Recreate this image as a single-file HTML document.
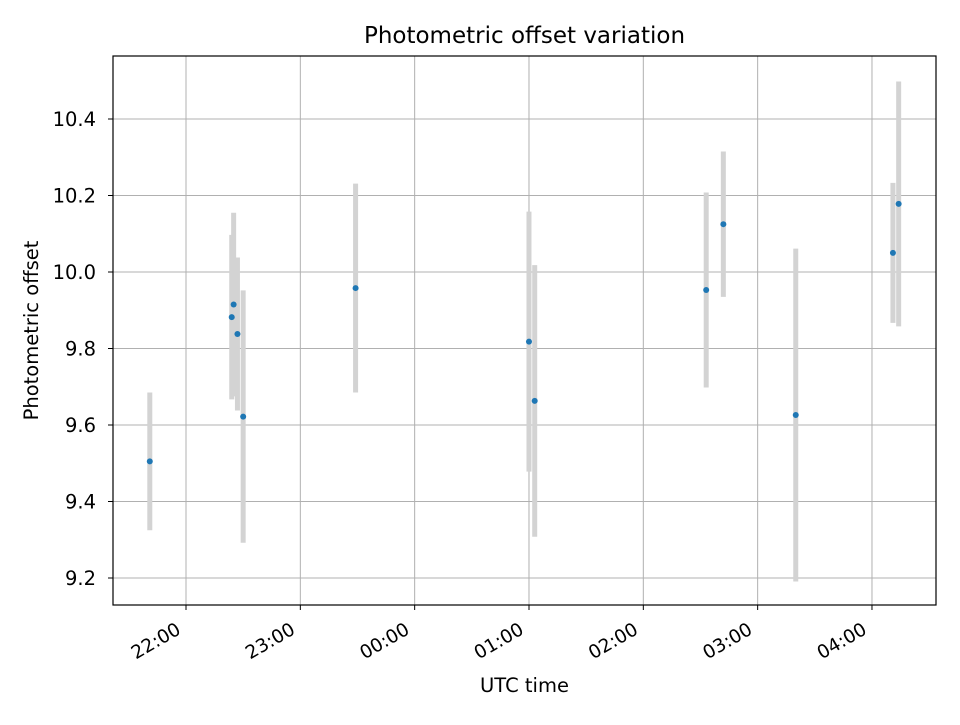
<!DOCTYPE html>
<html><head><meta charset="utf-8"><style>
body{margin:0;background:#fff;}
svg text{font-family:"DejaVu Sans","Liberation Sans",sans-serif;fill:#000;}
</style></head><body>
<svg id="chart" width="960" height="720" xmlns="http://www.w3.org/2000/svg"></svg>
<script>
const times = ["21:41","22:24","22:25","22:27","22:30","23:29","01:00","01:03","02:33","02:42","03:20","04:11","04:14"];
const values = [9.505,9.882,9.915,9.838,9.622,9.958,9.818,9.663,9.953,10.125,9.626,10.05,10.178];
const errors = [0.18,0.215,0.24,0.2,0.33,0.273,0.34,0.355,0.255,0.19,0.435,0.183,0.32];
const xTickLabels = ["22:00","23:00","00:00","01:00","02:00","03:00","04:00"];
const yTickLabels = ["9.2","9.4","9.6","9.8","10.0","10.2","10.4"];

const NS="http://www.w3.org/2000/svg";
const svg=document.getElementById('chart');
const L=113,R=936,T=56,B=605;
function toMin(s){let [h,m]=s.split(':').map(Number);if(h<12)h+=24;return h*60+m;}
function xs(min){return 186+(min-22*60)*(114.33/60);}
function ys(v){return 578-(v-9.2)*382.5;}
function mk(tag,attrs,parent){const e=document.createElementNS(NS,tag);for(const k in attrs)e.setAttribute(k,attrs[k]);(parent||svg).appendChild(e);return e;}

const grid=mk('g',{});


xTickLabels.forEach(t=>{
  const x=xs(toMin(t));
  mk('line',{x1:x,x2:x,y1:T,y2:B,stroke:'#b0b0b0','stroke-width':1},grid);
  mk('line',{x1:x,x2:x,y1:B,y2:B+5,stroke:'#000','stroke-width':1});
  const bx=x-4,by=B+28;
  const tx=mk('text',{x:bx,y:by,'font-size':18.5,'text-anchor':'end',transform:`rotate(-30 ${bx} ${by})`});
  
  
  tx.textContent=t;
});
yTickLabels.forEach(t=>{
  const y=ys(parseFloat(t));
  mk('line',{x1:L,x2:R,y1:y,y2:y,stroke:'#b0b0b0','stroke-width':1},grid);
  mk('line',{x1:L-5,x2:L,y1:y,y2:y,stroke:'#000','stroke-width':1});
  const tx=mk('text',{x:L-17,y:y+7,'font-size':19.5,'text-anchor':'end'});
  
  
  tx.textContent=t;
});
const eb=mk('g',{});


times.forEach((t,i)=>{
  const x=xs(toMin(t));
  const l=mk('line',{x1:x,x2:x,y1:ys(values[i]-errors[i]),y2:ys(values[i]+errors[i]),stroke:'#d3d3d3','stroke-width':5},eb);
  
  
});
times.forEach((t,i)=>{
  const c=mk('circle',{cx:xs(toMin(t)),cy:ys(values[i]),r:3,fill:'#1f77b4'});
  
  
});
const frame=mk('rect',{x:L,y:T,width:R-L,height:B-T,fill:'none',stroke:'#000','stroke-width':1.2});


const title=mk('text',{x:(L+R)/2,y:43,'font-size':23,'text-anchor':'middle'});


title.textContent='Photometric offset variation';
const xt=mk('text',{x:(L+R)/2,y:692,'font-size':19.5,'text-anchor':'middle'});


xt.textContent='UTC time';
const yt=mk('text',{x:38,y:(T+B)/2,'font-size':19.5,'text-anchor':'middle',transform:`rotate(-90 38 ${(T+B)/2})`});


yt.textContent='Photometric offset';
</script>
</body></html>
